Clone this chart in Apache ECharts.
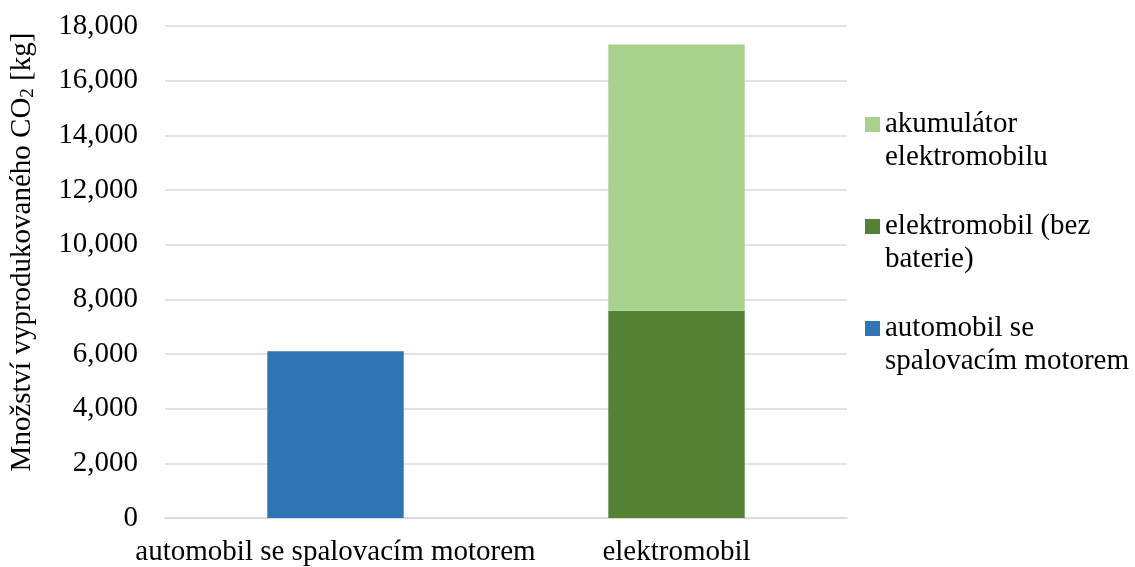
<!DOCTYPE html>
<html>
<head>
<meta charset="utf-8">
<script src="https://cdn.jsdelivr.net/npm/echarts@6/dist/echarts.min.js"></script>
<style>
  html, body { margin: 0; padding: 0; background: #fff; }
  #chart { width: 1135px; height: 567px; }
</style>
</head>
<body>
<div id="chart"></div>
<script>
  // data
  const categories = ['automobil se spalovacím motorem', 'elektromobil'];
  const seriesNames = ['automobil se spalovacím motorem', 'elektromobil (bez baterie)', 'akumulátor elektromobilu'];
  const legendLabels = ['automobil se\nspalovacím motorem', 'elektromobil (bez\nbaterie)', 'akumulátor\nelektromobilu'];
  const combustion = [6100, null];
  const evBody = [null, 7580];
  const evBattery = [null, 9740];
  const colors = ['#2E75B6', '#548235', '#A9D18E'];

  const font = "'Liberation Serif', 'Times New Roman', serif";
  const fs = 29;
  const lh = 33;

  // square sitting next to the first line of a two-line legend label
  const legendIcon = 'path://M0,0L0,0M0,0.6L1,0.6L1,1.6L0,1.6ZM0,4.4L0,4.4';

  const chart = echarts.init(document.getElementById('chart'));

  const mk = (i, data) => ({
    name: seriesNames[i],
    type: 'bar',
    stack: 'total',
    barWidth: '40%',
    itemStyle: { color: colors[i] },
    data: data
  });

  chart.setOption({
    animation: false,
    textStyle: { fontFamily: font, color: '#000' },
    grid: { left: 165, right: 288, top: 26, bottom: 49 },
    legend: {
      orient: 'vertical',
      left: 860,
      top: 103,
      itemWidth: 15,
      itemHeight: 66,
      itemGap: 36,
      icon: legendIcon,
      itemStyle: { borderWidth: 0 },
      data: [seriesNames[2], seriesNames[1], seriesNames[0]],
      formatter: name => legendLabels[seriesNames.indexOf(name)],
      textStyle: { fontFamily: font, fontSize: fs, color: '#000', lineHeight: lh }
    },
    xAxis: {
      type: 'category',
      data: categories,
      axisLine: { lineStyle: { color: '#d9d9d9', width: 1.5 } },
      axisTick: { show: false },
      axisLabel: { interval: 0, fontFamily: font, fontSize: fs, color: '#000', margin: 20 }
    },
    yAxis: {
      type: 'value',
      min: 0,
      max: 18000,
      interval: 2000,
      name: '{t|Množství vyprodukovaného CO}{s|2}{t| [kg]}',
      nameLocation: 'middle',
      nameRotate: 90,
      nameGap: 127,
      nameTextStyle: {
        padding: [0, 0, 0, 40],
        rich: {
          t: { fontFamily: font, fontSize: fs, color: '#000' },
          s: { fontFamily: font, fontSize: 19, color: '#000', padding: [12, 0, 0, 0] }
        }
      },
      axisLine: { show: false },
      axisTick: { show: false },
      splitLine: { lineStyle: { color: '#d9d9d9', width: 1.5 } },
      axisLabel: {
        fontFamily: font, fontSize: fs, color: '#000', margin: 27,
        formatter: v => v.toLocaleString('en-US')
      }
    },
    series: [mk(0, combustion), mk(1, evBody), mk(2, evBattery)]
  });
</script>
</body>
</html>
